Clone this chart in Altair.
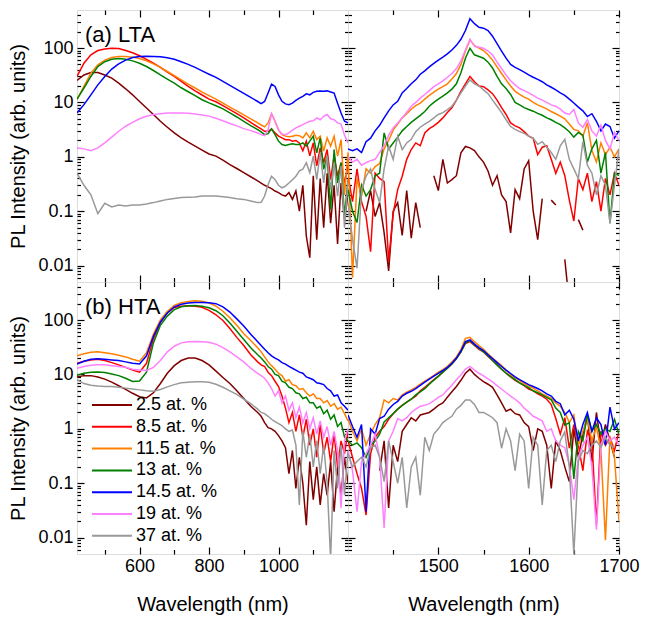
import altair as alt
import pandas as pd

series = ["2.5 at. %", "8.5 at. %", "11.5 at. %", "13 at. %", "14.5 at. %", "19 at. %", "37 at. %"]
colors = ["#800000", "#ff0000", "#ff8000", "#008000", "#0000ff", "#ff80ff", "#999999"]

vis_nm = [420, 440, 460, 480, 500, 520, 540, 560, 580, 600, 620, 640, 660, 680, 700, 720, 740, 760, 780, 800,
          820, 840, 860, 880, 900, 920, 940, 950, 960, 970, 980, 990, 1000, 1010, 1020, 1030, 1040, 1050, 1060,
          1070, 1080, 1090, 1100, 1110, 1120, 1130, 1140, 1150, 1160, 1170, 1180, 1190, 1200]
ir_nm = [1400, 1405, 1410, 1415, 1420, 1425, 1430, 1435, 1440, 1445, 1450, 1455, 1460, 1465, 1470, 1475, 1480,
         1485, 1490, 1495, 1500, 1505, 1510, 1515, 1520, 1525, 1530, 1535, 1540, 1545, 1550, 1555, 1560, 1565,
         1570, 1575, 1580, 1585, 1590, 1595, 1600, 1605, 1610, 1615, 1620, 1625, 1630, 1635, 1640, 1645, 1650,
         1655, 1660, 1665, 1670, 1675, 1680, 1685, 1690, 1695, 1700]

y_ticks = [0.006, 0.007, 0.008, 0.009, 0.01, 0.02, 0.03, 0.04, 0.05, 0.06, 0.07, 0.08, 0.09,
           0.1, 0.2, 0.3, 0.4, 0.5, 0.6, 0.7, 0.8, 0.9, 1, 2, 3, 4, 5, 6, 7, 8, 9,
           10, 20, 30, 40, 50, 60, 70, 80, 90, 100, 200, 300, 400]
vis_x_ticks = [500, 600, 700, 800, 900, 1000, 1100]
ir_x_ticks = [1450, 1500, 1550, 1600, 1650, 1700]

# ---------------- (a) LTA, visible / NIR ----------------
lta_vis_2p5 = [25.4, 32, 35.5, 35.5, 32, 28, 22.6, 17.8, 13.8, 10.4, 7.9, 6.0, 4.5, 3.5, 2.75, 2.23, 1.86, 1.57, 1.33, 1.13, 1.03, 0.87, 0.72, 0.61, 0.51, 0.43, 0.36,
               0.33, 0.30, 0.28, 0.26, 0.235, 0.22, 0.2, 0.19, 0.22, 0.165, 0.235, 0.1, 0.3, 0.035, 0.014, 0.45, 0.03, 0.4, 0.05, 0.5, 0.06, 0.3, 0.025, 0.33, 0.07, 0.2]
lta_vis_8p5 = [30, 52.6, 75, 90, 96, 99, 98, 90, 82, 72, 62, 52.6, 44, 36, 30, 24.4, 19.7, 16.3, 13.7, 11.5, 10.3, 8.7, 7.35, 6.2, 5.2, 4.3, 3.55,
               3.26, 2.95, 2.95, 3.26, 2.75, 2.4, 2.23, 2.07, 2.07, 1.94, 2.0, 1.8, 1.29, 1.94, 1.04, 1.8, 0.68, 1.46, 0.78, 1.36, 0.38, 1.04, 0.44, 0.78, 0.33, 0.68]
lta_vis_11p5 = [11.2, 19.7, 34.6, 49, 60, 67, 70, 70, 68, 64, 58, 51, 44, 37, 31, 26, 21.7, 18.4, 15.5, 13.3, 11.5, 9.7, 8.2, 7.0, 5.9, 5.0, 4.2,
                3.85, 3.55, 4.2, 6.2, 4.5, 3.1, 2.56, 2.4, 2.35, 2.4, 2.5, 2.45, 2.23, 2.75, 2.23, 2.95, 2.07, 2.4, 1.27, 2.23, 1.57, 2.4, 1.03, 2.07, 0.2, 1.2]
lta_vis_13 = [11.5, 18.4, 30, 45.7, 56, 62, 64, 62, 58, 52.6, 45.7, 38.6, 32, 26.8, 22.6, 18.6, 15.7, 13.3, 11.2, 9.8, 8.7, 7.6, 6.4, 5.4, 4.5, 3.74, 3.16,
              2.87, 2.56, 2.67, 3.26, 2.56, 1.94, 1.68, 1.61, 1.68, 1.73, 1.68, 1.68, 1.8, 1.57, 1.94, 2.4, 1.18, 2.23, 0.59, 1.04, 0.108, 1.36, 0.33, 0.78, 0.08, 0.38]
lta_vis_14p5 = [6.4, 9.1, 13.8, 21, 30, 41, 51, 60, 67, 70, 70.5, 70, 69, 66, 62, 56, 50, 44, 38, 33, 28.8, 24.4, 20.5, 17.4, 14.7, 12.4, 10.4,
                9.5, 10.4, 14.9, 21.7, 19.7, 13.8, 10.5, 9.4, 9.1, 9.7, 10.9, 12, 12.9, 14.4, 13.8, 15.3, 16, 16.3, 16, 16.3, 15.6, 14.9, 9.7, 6.4, 4.5, 4.2]
lta_vis_19 = [1.46, 1.40, 1.3, 1.46, 1.8, 2.3, 2.95, 3.65, 4.3, 5.0, 5.55, 6.0, 6.2, 6.4, 6.4, 6.4, 6.3, 6.1, 5.9, 5.6, 5.1, 4.6, 4.1, 3.7, 3.3, 3.03, 2.75,
              2.56, 2.45, 3.16, 6.2, 4.5, 3.16, 2.63, 2.56, 2.75, 3.1, 3.4, 3.65, 3.9, 4.2, 4.5, 4.6, 5.2, 4.8, 5.55, 6.0, 5.0, 4.8, 4.2, 4.0, 2.5, 1.8]
lta_vis_37 = [0.5, 0.3, 0.2, 0.09, 0.14, 0.12, 0.13, 0.125, 0.13, 0.13, 0.136, 0.144, 0.154, 0.165, 0.172, 0.178, 0.18, 0.182, 0.19, 0.19, 0.19, 0.185, 0.178, 0.17, 0.165, 0.154, 0.144,
              0.146, 0.19, 0.31, 0.44, 0.38, 0.3, 0.27, 0.29, 0.33, 0.38, 0.44, 0.55, 0.59, 0.78, 0.51, 1.03, 0.38, 1.18, 0.33, 1.03, 0.25, 0.78, 0.19, 0.68, 0.05, 0.38]

# ---------------- (a) LTA, Er 1.5 um band ----------------
lta_ir_2p5 = [None, None, None, None, 0.1, 0.24, 0.08, 0.144, 0.04, 0.008,
              0.1, 0.144, 0.036, 0.24, 0.032, 0.144, 0.05, None, None, 0.45,
              0.24, 0.9, 0.33, 0.38, 0.45, 1.18, 1.55, 1.46, 1.3, 1.0,
              0.8, 0.55, 0.3, 0.45, 0.2, 0.15, 0.04, 0.25, 0.17, 0.6,
              0.85, 0.1, 0.03, 0.17, None, 0.16, 0.13, None, 0.013, 0.002,
              None, 0.07, 0.045, None, None, None, None, None, None, None,
              None]
lta_ir_8p5 = [0.45, 0.15, 0.6, 0.15, 0.08, 0.018, 0.5, 0.4, 0.35, 0.012,
              0.09, 0.25, 0.44, 0.9, 1.36, 1.8, 1.6, 2.75, 3.3, 3.7,
              4.3, 5.2, 6.5, 8.0, 11, 16, 22, 30, 24, 20,
              19.5, 17, 14.5, 11, 8, 6, 4.2, 3.7, 3.4, 2.9,
              2.4, 2.2, 1.1, 1.5, 1.6, 0.9, 0.5, 0.8, 0.45, 0.16,
              0.066, 0.4, 0.25, 0.5, 0.15, 0.35, 0.1, 0.4, 0.2, 0.5,
              0.3]
lta_ir_11p5 = [1.2, 0.006, 0.4, 0.19, 0.6, 0.5, 0.66, 0.75, 1.4, 2.0,
               3.1, 4.0, 5.2, 6.2, 7.5, 8.7, 9.75, 11.5, 13.5, 15.5,
               17.5, 19.5, 22, 27, 34, 50, 88, 141, 110, 100,
               90, 75, 60, 45, 34, 26, 20, 16, 14, 12.5,
               11.5, 10, 9.0, 8.3, 7.6, 6.8, 6.2, 5.6, 5.0, 4.0,
               3.2, 3.0, 2.4, 4.2, 1.3, 0.8, 1.8, 1.1, 1.5, 1.0,
               1.4]
lta_ir_13 = [0.25, 0.1, 0.062, 0.3, 0.19, 0.25, 0.45, 0.5, 2.75, 1.4,
             1.8, 2.3, 3.0, 3.6, 4.3, 5.0, 5.8, 6.8, 8.5, 10,
             11.5, 13, 15, 17.5, 22, 35, 65, 99, 75, 70,
             65, 55, 43, 30, 22, 18, 14, 10, 9.0, 8.0,
             7.4, 6.9, 6.3, 5.8, 5.2, 4.8, 4.3, 3.9, 3.4, 2.9,
             2.3, 2.8, 2.5, 0.8, 1.4, 2.0, 0.5, 1.2, 0.06, 0.5,
             0.45]
lta_ir_14p5 = [1.4, 1.3, 1.4, 1.2, 1.9, 2.2, 3.0, 3.8, 5.2, 7.0,
               9.0, 10.5, 15, 18, 22, 26, 33, 38, 45, 52,
               60, 68, 78, 92, 112, 145, 210, 345, 280, 240,
               232, 210, 165, 120, 88, 65, 50, 44, 40, 36,
               32, 29, 26.5, 24, 21, 19, 17, 15, 13.5, 11.5,
               9.75, 8.2, 7.0, 5.5, 6.2, 4.5, 3.0, 4.0, 3.6, 2.2,
               3.0]
lta_ir_19 = [1.0, 0.8, 0.9, 0.7, 0.78, 0.85, 0.9, 1.2, 1.6, 2.5,
             3.4, 4.2, 5.2, 6.6, 8.5, 10, 12, 14, 16.5, 19.5,
             22, 25, 29, 34, 42, 58, 92, 145, 108, 103,
             99, 88, 75, 55, 42, 32, 25, 21, 18, 16.5,
             15, 13.5, 12, 11, 10, 9, 8.5, 7.5, 6.4, 6.0,
             7.4, 4.2, 3.5, 4.8, 3.0, 2.4, 3.8, 2.0, 1.4, 2.8,
             2.0]
lta_ir_37 = [0.144, 0.03, 0.009, 0.25, 0.44, 0.6, 0.25, 0.144, 0.6, 1.57,
             0.9, 2.4, 1.36, 1.8, 2.1, 2.9, 3.5, 4.0, 4.5, 5.2,
             6.0, 6.5, 7.4, 8.5, 11, 15, 20, 26, 22, 20,
             17, 14.5, 11, 8.5, 6.5, 4.8, 3.6, 3.2, 2.9, 2.7,
             2.4, 2.2, 1.7, 1.9, 1.5, 1.2, 0.9, 1.6, 2.1, 0.9,
             0.6, 0.4, 1.9, 0.7, 0.5, 0.2, 0.45, 0.3, 0.06, 0.3,
             1.4]

# ---------------- (b) HTA, visible / NIR ----------------
hta_vis_2p5 = [9.0, 9.5, 9.5, 9.0, 8.2, 7.2, 6.2, 5.3, 4.5, 3.9, 3.7, 4.6, 6.8, 10.5, 14.5, 18, 20, 20, 18, 15, 11.5, 8.8, 6.8, 5.0, 3.6, 2.6, 2.0,
               1.7, 1.3, 1.05, 1.0, 0.9, 0.75, 0.6, 0.45, 0.15, 0.4, 0.08, 0.3, 0.1, 0.017, 0.25, 0.05, 0.2, 0.04, 0.15, 0.06, 0.25, 0.03, 0.2, 0.06, 0.3, 0.1]
hta_vis_8p5 = [16, 17.5, 18.5, 19, 18, 16.5, 15, 13.5, 12, 11, 16, 45, 90, 135, 170, 180, 183, 180, 172, 150, 125, 98, 70, 48, 34, 23, 17,
               15, 14, 11, 9.5, 7.5, 6.0, 4.0, 2.4, 1.3, 2.0, 0.9, 1.8, 0.7, 1.5, 0.5, 1.0, 0.3, 1.2, 0.35, 0.7, 0.25, 0.8, 0.2, 0.6, 0.35, 0.9]
hta_vis_11p5 = [22, 24, 25.5, 26, 25, 24, 22.5, 21, 19, 17.5, 25, 55, 100, 145, 185, 208, 220, 225, 222, 205, 180, 145, 110, 80, 56, 42, 31,
                26, 21, 17, 14.5, 12.5, 10.5, 9.5, 7.5, 8.0, 6.5, 6.2, 5.3, 5.5, 4.6, 4.0, 4.4, 3.6, 3.6, 3.0, 3.3, 2.6, 2.9, 2.3, 2.5, 1.9, 1.4]
hta_vis_13 = [9.6, 10.5, 11, 11.1, 10.8, 10.2, 9.5, 8.5, 7.4, 7.6, 11, 38, 80, 118, 155, 175, 183, 185, 180, 168, 148, 120, 88, 62, 44, 31, 23,
              20, 17, 14, 12.5, 10, 9.5, 7.5, 7.0, 5.8, 5.5, 4.6, 4.4, 3.6, 3.8, 3.0, 3.0, 2.4, 2.6, 1.9, 2.2, 1.5, 1.8, 1.1, 1.3, 0.7, 0.6]
hta_vis_14p5 = [15.5, 17.5, 19, 19.5, 19, 18.5, 18, 17, 16, 15.5, 22, 50, 92, 135, 175, 195, 205, 210, 210, 208, 200, 175, 140, 105, 78, 55, 40,
                34, 29, 25, 22, 20, 18.5, 16.5, 15.5, 14, 13, 12, 11, 10.5, 9.0, 8.5, 8.0, 7.0, 6.8, 6.5, 5.5, 5.0, 4.0, 4.2, 3.0, 2.6, 2.2]
hta_vis_19 = [13, 14, 14.7, 15, 15, 14.5, 14, 13.5, 12.5, 12, 11.8, 13.5, 18, 26, 33, 38, 40, 40.5, 40, 39, 36, 31, 26, 21, 17, 13, 10.5,
              9.5, 8.5, 7.0, 5.5, 4.0, 5.0, 3.0, 4.0, 2.2, 3.0, 1.6, 2.5, 1.3, 2.0, 1.0, 1.6, 0.8, 1.4, 0.7, 1.1, 0.5, 0.9, 0.4, 0.035, 0.6, 1.0]
hta_vis_37 = [8.0, 6.8, 6.3, 6.1, 6.0, 6.0, 5.8, 5.6, 5.4, 5.2, 5.0, 4.9, 5.3, 5.9, 6.5, 7.0, 7.2, 7.3, 7.3, 7.2, 6.6, 5.8, 5.0, 4.3, 3.5, 2.9, 2.3,
              2.0, 1.9, 1.7, 1.5, 1.35, 1.25, 1.15, 1.0, 0.9, 0.95, 0.5, 0.04, 0.9, 0.3, 0.8, 0.2, 0.6, 0.15, 0.5, 0.1, 0.004, 0.4, 0.08, 0.5, 0.06, 0.4]

# ---------------- (b) HTA, Er 1.5 um band ----------------
hta_ir_2p5 = [None, None, None, None, None, None, None, 0.17, 0.6, 0.035,
              0.5, 0.25, 0.9, 1.2, 1.6, 1.4, 1.8, 1.9, 2.0, 2.3,
              2.7, 3.0, 3.8, 4.8, 6.0, 7.8, 10.5, 12.5, 10, 8.5,
              7.4, 6.6, 5.8, 4.2, 3.0, 2.1, 2.3, 1.9, 1.8, 1.3,
              1.1, 0.4, 1.0, 0.9, 0.5, 0.08, 0.6, 0.4, 0.2, 0.107,
              1.0, 0.3, 0.8, 1.78, 0.25, 2.0, 0.5, 1.2, 0.6, 0.3,
              None]
hta_ir_8p5 = [0.6, 0.3, 0.15, 0.08, 0.026, 0.35, 0.7, 0.9, 1.1, 1.5,
              1.9, 2.3, 2.7, 3.1, 3.5, 4.0, 5.0, 5.8, 6.8, 8.0,
              9.3, 11, 13, 15.5, 19.5, 26, 37, 40, 34, 29,
              26, 21.5, 18, 15, 12.5, 10.5, 9.0, 7.8, 7.0, 6.2,
              5.4, 5.0, 4.4, 4.0, 3.5, 2.8, 1.55, 0.8, 1.6, 0.44,
              1.2, 0.5, 0.17, 0.9, 0.6, 0.017, 0.9, 0.5, 0.7, 0.4,
              0.9]
hta_ir_11p5 = [1.5, 0.9, 0.6, 1.0, 0.5, 0.8, 1.2, 1.6, 3.4, 3.0,
               3.6, 3.4, 4.2, 4.7, 5.2, 5.8, 6.6, 7.5, 8.5, 9.6,
               11, 12.3, 14, 17, 21, 29, 46, 48, 40, 34,
               29, 24, 20, 17, 14.5, 12, 10, 8.6, 7.8, 6.8,
               6.2, 5.6, 5.0, 4.4, 4.0, 3.6, 3.0, 2.6, 2.0, 1.3,
               1.8, 0.5, 0.9, 1.5, 0.6, 1.1, 0.4, 0.009, 0.7, 0.3,
               0.02]
hta_ir_13 = [0.6, 0.5, 0.55, 0.45, 0.3, 0.5, 0.6, 0.8, 1.34, 1.6,
             1.9, 2.3, 2.7, 3.1, 3.5, 4.2, 4.8, 5.5, 6.6, 7.8,
             9.2, 11, 13, 15.5, 19.5, 26, 38, 42, 35, 30,
             26, 22, 18, 15, 12.5, 10.5, 9.2, 8.0, 7.0, 6.3,
             5.7, 5.0, 4.6, 4.2, 3.8, 3.4, 2.4, 2.0, 1.17, 1.3,
             0.12, 0.9, 0.6, 1.8, 0.9, 1.2, 0.8, 1.0, 0.9, 1.5,
             0.8]
hta_ir_14p5 = [1.8, 1.1, 0.7, 1.2, 0.03, 1.0, 0.8, 1.55, 1.7, 2.3,
               2.8, 3.2, 4.0, 4.5, 4.9, 5.5, 6.3, 7.2, 8.2, 9.3,
               10.5, 11.8, 13.5, 16, 20, 27, 40, 43, 36, 31,
               27.5, 23, 19.5, 16.5, 14, 12, 10.4, 9.0, 8.0, 7.2,
               6.5, 6.0, 5.5, 5.0, 4.4, 4.0, 3.2, 2.9, 1.8, 2.2,
               1.5, 0.6, 1.2, 2.0, 0.9, 1.6, 1.2, 0.5, 2.5, 1.0,
               1.3]
hta_ir_19 = [0.4, 0.17, 0.03, 0.25, 0.35, 0.5, 0.8, 0.3, 0.015, 0.6,
             0.9, 1.55, 1.4, 1.6, 2.0, 2.3, 2.6, 2.7, 2.9, 3.3,
             3.8, 4.2, 5.2, 6.3, 8.0, 9.8, 12.5, 14, 12, 10.5,
             9.4, 8.3, 7.3, 6.2, 5.4, 4.6, 4.0, 3.5, 3.0, 2.4,
             2.05, 1.7, 1.55, 1.4, 0.9, 1.0, 0.6, 0.5, 0.45, 0.22,
             0.05, 0.3, 0.5, 0.7, 0.2, 0.014, 0.5, 0.9, 0.6, 0.7,
             0.5]
hta_ir_37 = [0.35, 0.2, 0.25, 0.3, 0.2, 0.45, 0.5, 0.3, 0.107, 0.6,
             0.25, 0.1, 0.3, 0.035, 0.2, 0.3, 0.06, 0.7, 0.4, 0.8,
             1.0, 1.3, 1.5, 1.7, 2.3, 2.7, 3.4, 3.4, 2.8, 2.0,
             2.0, 1.8, 1.6, 1.3, 0.44, 1.0, 0.6, 0.17, 0.8, 0.6,
             0.08, 0.7, 0.5, 0.04, 0.4, 0.5, 0.25, 0.6, 0.88, 0.2,
             0.005, 0.25, 0.4, 0.35, 0.5, 0.6, 0.45, 0.7, 0.5, 0.45,
             None]


def frame(nm, arrays):
    rows = []
    for name, vals in zip(series, arrays):
        assert len(vals) == len(nm), (name, len(vals), len(nm))
        for x, v in zip(nm, vals):
            rows.append({"nm": x, "I": v, "s": name})
    return pd.DataFrame(rows)


df_tl = frame(vis_nm, [lta_vis_2p5, lta_vis_8p5, lta_vis_11p5, lta_vis_13, lta_vis_14p5, lta_vis_19, lta_vis_37])
df_tr = frame(ir_nm, [lta_ir_2p5, lta_ir_8p5, lta_ir_11p5, lta_ir_13, lta_ir_14p5, lta_ir_19, lta_ir_37])
df_bl = frame(vis_nm, [hta_vis_2p5, hta_vis_8p5, hta_vis_11p5, hta_vis_13, hta_vis_14p5, hta_vis_19, hta_vis_37])
df_br = frame(ir_nm, [hta_ir_2p5, hta_ir_8p5, hta_ir_11p5, hta_ir_13, hta_ir_14p5, hta_ir_19, hta_ir_37])

FONT = "Liberation Sans"
Y_MAJ = "abs(log(datum.value)/LN10 - round(log(datum.value)/LN10)) < 0.01"
TICK = {"expr": "-7"}
PW, PH = 271, 272


def y_axis(orient, labels, title=None):
    return alt.Axis(
        orient=orient, values=y_ticks, labels=labels, title=title, domain=False, grid=False,
        minExtent=0, tickSize=TICK, tickWidth=1.2, tickColor="black",
        tickDash={"condition": {"test": Y_MAJ, "value": [20, 1]}, "value": [3.5, 30]},
        labelExpr=f"({Y_MAJ}) ? format(datum.value, '~g') : ''",
        labelFontSize={"condition": {"test": Y_MAJ, "value": 18}, "value": 1},
        labelPadding=11, labelFont=FONT, labelColor="black",
        labelOverlap=False, labelFlush=False,
        titleFontSize=20, titleFont=FONT, titleFontWeight="normal", titleColor="black", titlePadding=9)


def x_axis(orient, values, major, labels, title=None):
    return alt.Axis(
        orient=orient, values=values, labels=labels, title=title, domain=False, grid=False,
        minExtent=0, tickSize=TICK, tickWidth=1.2, tickColor="black",
        tickDash={"condition": {"test": major, "value": [20, 1]}, "value": [4.5, 30]},
        labelExpr=f"({major}) ? datum.label : ''",
        labelFontSize={"condition": {"test": major, "value": 18}, "value": 1},
        labelPadding=10, labelFont=FONT, labelColor="black",
        labelOverlap=False, labelFlush=False, format="d",
        titleFontSize=20, titleFont=FONT, titleFontWeight="normal", titleColor="black", titlePadding=19)


cscale = alt.Scale(domain=series, range=colors)
yscale = alt.Scale(type="log", domain=[0.005, 500], nice=False)

leg = alt.Legend(orient="none", legendX=26, legendY=386, title=None, labelFontSize=18, labelFont=FONT,
                 labelColor="black", symbolType="M-4,0H4", symbolSize=100, symbolStrokeWidth=2,
                 labelOffset=15, rowPadding=3.8, padding=0, labelLimit=0)


def panel(df, dom, xt, xmaj, bottom, left, tag):
    xs = alt.Scale(domain=dom, nice=False, zero=False)
    lines = alt.Chart(df).mark_line(strokeWidth=1.5, clip=True, invalid="break-paths-show-domains").encode(
        x=alt.X("nm:Q", scale=xs, axis=x_axis("bottom", xt, xmaj, bottom, "Wavelength (nm)" if bottom else None)),
        y=alt.Y("I:Q", scale=yscale, axis=y_axis("left", left, "PL Intensity (arb. units)" if left else None)),
        color=alt.Color("s:N", scale=cscale, legend=leg),
    )
    ghost = alt.Chart(df).mark_line(opacity=0, clip=True).encode(
        x=alt.X("nm:Q", scale=xs, axis=x_axis("top", xt, xmaj, False)),
        y=alt.Y("I:Q", scale=yscale, axis=y_axis("right", False)),
    )
    layers = [lines, ghost]
    if tag:
        layers.append(
            alt.Chart(pd.DataFrame({"t": [tag]})).mark_text(
                align="left", baseline="alphabetic", fontSize=22, font=FONT, color="black"
            ).encode(x=alt.value(8), y=alt.value(32), text="t:N")
        )
    return alt.layer(*layers).resolve_axis(x="independent", y="independent").properties(width=PW, height=PH)


VIS_MAJ = "datum.value % 200 == 0"
IR_MAJ = "datum.value % 100 == 0"

tl = panel(df_tl, [420, 1200], vis_x_ticks, VIS_MAJ, False, True, "(a) LTA")
tr = panel(df_tr, [1400, 1700], ir_x_ticks, IR_MAJ, False, False, None)
bl = panel(df_bl, [420, 1200], vis_x_ticks, VIS_MAJ, True, True, "(b) HTA")
br = panel(df_br, [1400, 1700], ir_x_ticks, IR_MAJ, True, False, None)

chart = alt.concat(tl, tr, bl, br, columns=2, spacing=0, bounds="flush").properties(
    padding={"left": 0, "top": 0, "right": 0, "bottom": 0}
).configure_view(stroke="black", strokeWidth=1.3).configure(font=FONT)

chart.save("out.html", embed_options={"renderer": "svg", "actions": False})
